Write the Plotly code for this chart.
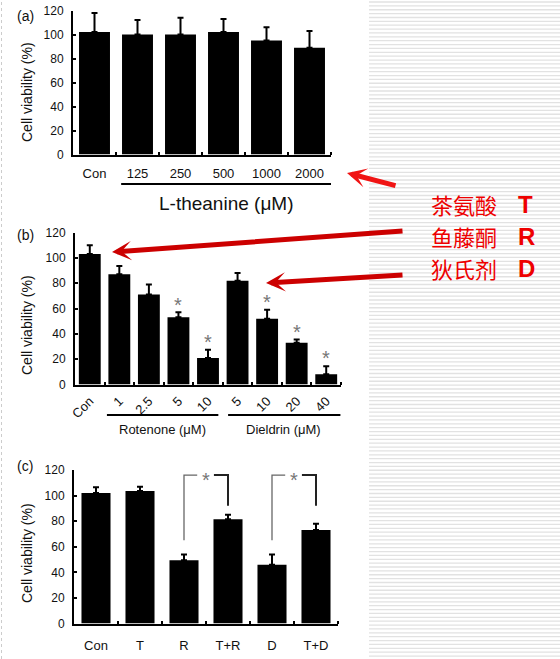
import plotly.graph_objects as go

W, H = 560, 659

# (a) L-theanine alone
a_labels = ['Con', '125', '250', '500', '1000', '2000']
a_values = [102, 100, 100, 102, 95, 89]
a_errors = [16, 12, 14, 11, 11, 14]

# (b) rotenone and dieldrin
b_labels = ['Con', '1', '2.5', '5', '10', '5', '10', '20', '40']
b_values = [103, 87, 71, 53, 21, 82, 52, 33, 8]
b_errors = [7, 6.5, 8, 4, 6.5, 6, 7, 2.5, 6.5]
b_stars = [3, 4, 6, 7, 8]

# (c) L-theanine protection
c_labels = ['Con', 'T', 'R', 'T+R', 'D', 'T+D']
c_values = [102, 103.5, 49.5, 81.5, 46, 73]
c_errors = [4.5, 3.5, 4.5, 3.5, 8, 5]
c_pairs = [(2, 3), (4, 5)]

y_ticks = [0, 20, 40, 60, 80, 100, 120]

legend_cn = ['茶氨酸', '鱼藤酮', '狄氏剂']
legend_en = ['T', 'R', 'D']

FONT = 'Liberation Sans'


def px(x):
    return x / W


def py(y):
    return 1 - y / H


def add_bars(fig, values, errors, xa, ya, width):
    fig.add_trace(go.Bar(
        x=list(range(len(values))), y=values,
        width=width,
        marker=dict(color='black', line=dict(width=0)),
        error_y=dict(type='data', array=errors, arrayminus=[0] * len(errors),
                     symmetric=False, color='black', thickness=2, width=3),
        xaxis=xa, yaxis=ya, showlegend=False, hoverinfo='skip'
    ))


def x_axis(labels, dom, anchor, size, angle=0, standoff=4):
    n = len(labels)
    return dict(
        domain=[px(dom[0]), px(dom[1])], range=[-0.5, n - 0.5], anchor=anchor,
        automargin=False,
        showline=True, linecolor='black', linewidth=2, showgrid=False, zeroline=False,
        tickmode='array', tickvals=list(range(n)), ticktext=labels, ticks='',
        tickangle=angle, ticklabelstandoff=standoff,
        tickfont=dict(family=FONT, size=size, color='#111'),
        minor=dict(tickmode='array', tickvals=[i + 0.5 for i in range(n)],
                   ticks='inside', ticklen=3, tickwidth=2, tickcolor='black'),
        fixedrange=True
    )


def y_axis(zero_px, top_px, anchor):
    return dict(
        domain=[py(zero_px), py(top_px)], range=[0, 120], anchor=anchor,
        automargin=False,
        showline=True, linecolor='black', linewidth=2, showgrid=False, zeroline=False,
        tickmode='array', tickvals=y_ticks, ticks='inside', ticklen=3, tickwidth=1.5,
        tickcolor='black', ticklabelstandoff=5,
        tickfont=dict(family=FONT, size=12, color='#111'), fixedrange=True
    )


fig = go.Figure()

add_bars(fig, a_values, a_errors, 'x', 'y', 0.72)
add_bars(fig, b_values, b_errors, 'x2', 'y2', 0.74)
add_bars(fig, c_values, c_errors, 'x3', 'y3', 0.66)

shapes = []
annotations = []

# striped background on the right
y = 2.0
while y < H:
    shapes.append(dict(type='line', xref='paper', yref='paper', x0=px(369), x1=1,
                       y0=py(y), y1=py(y), line=dict(color='#e2e2e2', width=1.3),
                       layer='below'))
    y += 3.87
shapes.append(dict(type='line', xref='paper', yref='paper', x0=px(1.5), x1=px(1.5),
                   y0=0, y1=1, line=dict(color='#cccccc', width=1, dash='dot'),
                   layer='below'))

# group underlines
shapes.append(dict(type='line', xref='x', yref='paper', x0=0.62, x1=5.5,
                   y0=py(184), y1=py(184), line=dict(color='black', width=2)))
shapes.append(dict(type='line', xref='x2', yref='paper', x0=0.58, x1=4.35,
                   y0=py(415), y1=py(415), line=dict(color='black', width=2)))
shapes.append(dict(type='line', xref='x2', yref='paper', x0=4.68, x1=8.48,
                   y0=py(415), y1=py(415), line=dict(color='black', width=2)))

annotations.append(dict(text='L-theanine (μM)', xref='x', yref='paper', x=3.06, y=py(203),
                        xanchor='center', yanchor='middle', showarrow=False,
                        font=dict(family=FONT, size=19, color='#111')))
annotations.append(dict(text='Rotenone (μM)', xref='x2', yref='paper', x=2.45, y=py(429),
                        xanchor='center', yanchor='middle', showarrow=False,
                        font=dict(family=FONT, size=13, color='#111')))
annotations.append(dict(text='Dieldrin (μM)', xref='x2', yref='paper', x=6.55, y=py(429),
                        xanchor='center', yanchor='middle', showarrow=False,
                        font=dict(family=FONT, size=13, color='#111')))

# stars in (b)
for i in b_stars:
    annotations.append(dict(text='*', xref='x2', yref='y2', x=i, y=b_values[i] + b_errors[i] + 10,
                            xanchor='center', yanchor='middle', yshift=-5, showarrow=False,
                            font=dict(family=FONT, size=20, color='#777')))

# brackets in (c)
top, left_bot, right_bot = 116, 65, 92
for l, r in c_pairs:
    shapes.append(dict(type='path', xref='x3', yref='y3',
                       path=f'M {l},{left_bot} L {l},{top} L {l + 0.3},{top}',
                       line=dict(color='#666', width=1.3)))
    shapes.append(dict(type='path', xref='x3', yref='y3',
                       path=f'M {l + 0.68},{top} L {r},{top} L {r},{right_bot}',
                       line=dict(color='#222', width=2)))
    annotations.append(dict(text='*', xref='x3', yref='y3', x=l + 0.49, y=top,
                            xanchor='center', yanchor='middle', yshift=-5, showarrow=False,
                            font=dict(family=FONT, size=20, color='#777')))

# axis titles and panel labels
for lab, cy, yc in [('(a)', 16, 92), ('(b)', 235, 325), ('(c)', 466, 553)]:
    annotations.append(dict(text=lab, xref='paper', yref='paper', x=px(25), y=py(cy),
                            xanchor='center', yanchor='middle', showarrow=False,
                            font=dict(family=FONT, size=14, color='#111')))
    annotations.append(dict(text='Cell viability (%)', xref='paper', yref='paper',
                            x=px(27), y=py(yc), xanchor='center', yanchor='middle',
                            textangle=-90, showarrow=False,
                            font=dict(family=FONT, size=14, color='#111')))

# red arrows
for tip, tail, col in [((347, 173), (397, 186), '#f01414'),
                       ((112, 252), (404, 231), '#cc0000'),
                       ((266, 283), (404, 275), '#cc0000')]:
    annotations.append(dict(text='', xref='paper', yref='paper', x=px(tip[0]), y=py(tip[1]),
                            ax=tail[0] - tip[0], ay=tail[1] - tip[1], showarrow=True,
                            arrowhead=3, arrowsize=0.65, arrowwidth=5, arrowcolor=col,
                            standoff=0))

# red legend text
for k, (cn, en) in enumerate(zip(legend_cn, legend_en)):
    cy = 204 + 32 * k
    annotations.append(dict(text=cn, xref='paper', yref='paper', x=px(429), y=py(cy),
                            xanchor='left', yanchor='middle', showarrow=False,
                            font=dict(family='Noto Sans CJK SC', size=22, color='#ee0000')))
    annotations.append(dict(text='<b>' + en + '</b>', xref='paper', yref='paper',
                            x=px(516), y=py(cy), xanchor='left', yanchor='middle',
                            showarrow=False,
                            font=dict(family=FONT, size=24, color='#ee0000')))

fig.update_layout(
    width=W, height=H, margin=dict(l=0, r=0, t=0, b=0),
    paper_bgcolor='white', plot_bgcolor='white',
    font=dict(family=FONT),
    xaxis=x_axis(a_labels, (73, 331), 'y', 13, standoff=6),
    yaxis=y_axis(154.5, 10.5, 'x'),
    xaxis2=x_axis(b_labels, (75, 341), 'y2', 13, angle=-45, standoff=2),
    yaxis2=y_axis(384.5, 232.5, 'x2'),
    xaxis3=x_axis(c_labels, (74, 338), 'y3', 13, standoff=9),
    yaxis3=y_axis(623.5, 470, 'x3'),
    shapes=shapes, annotations=annotations,
    bargap=0.28
)

# the page body keeps its default 8px margin; drop it so the figure sits at the corner
fig.write_html("out.html", config={'displayModeBar': False},
               post_script="document.body.style.margin='0';")
